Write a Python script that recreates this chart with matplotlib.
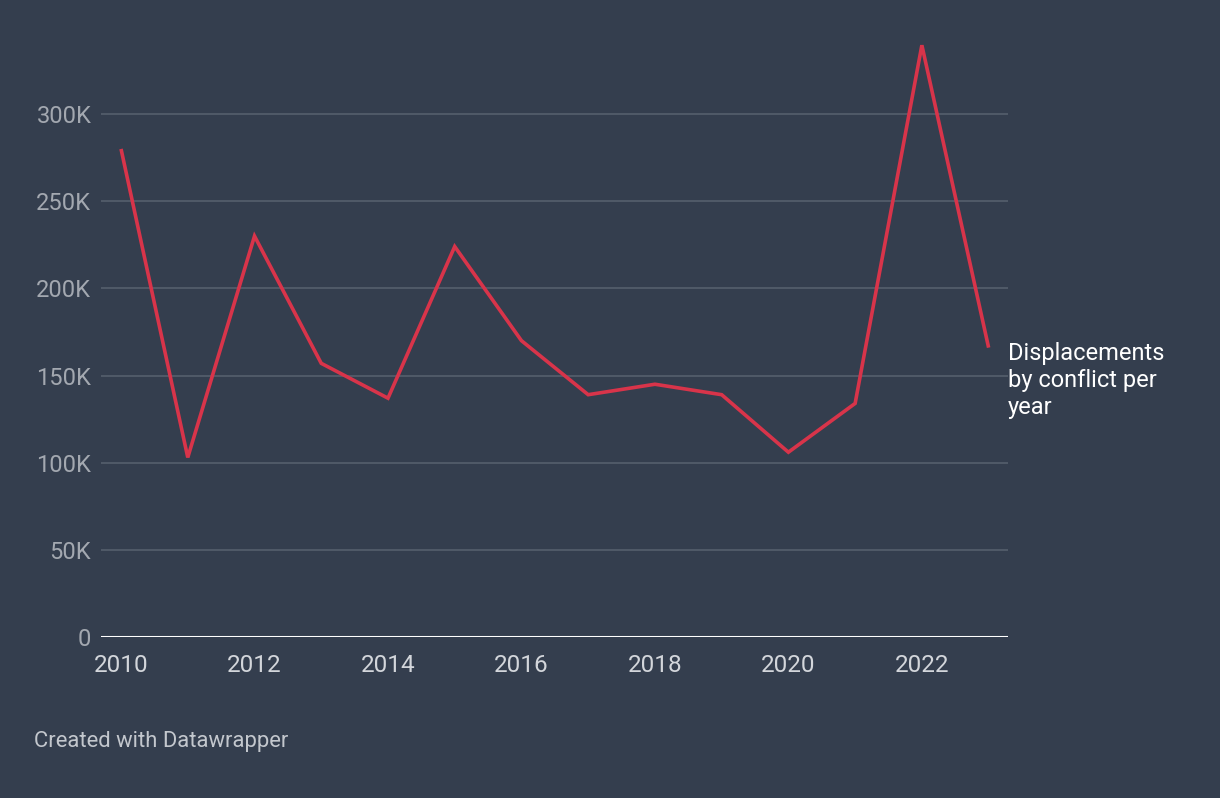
import matplotlib.pyplot as plt

plt.rcParams['font.family'] = ['Roboto', 'DejaVu Sans']

# data
years = [2010, 2011, 2012, 2013, 2014, 2015, 2016, 2017, 2018, 2019, 2020, 2021, 2022, 2023]
displacements = [280000, 103000, 230000, 157000, 137000, 224000, 170000,
                 139000, 145000, 139000, 106000, 134000, 339500, 166000]
y_ticks = [0, 50000, 100000, 150000, 200000, 250000, 300000]
y_labels = ['0', '50K', '100K', '150K', '200K', '250K', '300K']
x_ticks = [2010, 2012, 2014, 2016, 2018, 2020, 2022]

bg = '#343e4e'
red = '#d8344a'

fig = plt.figure(figsize=(12.2, 7.98), dpi=100, facecolor=bg)
ax = fig.add_axes([0.0828, 0.2018, 0.7434, 0.7544])
ax.set_facecolor(bg)

ax.plot(years, displacements, color=red, linewidth=2.6, solid_joinstyle='miter',
        solid_capstyle='butt', zorder=3)

ax.set_xlim(2009.70, 2023.29)
ax.set_ylim(0, 345400)

# grid + baseline
for v in y_ticks[1:]:
    ax.axhline(v, color='#525c6a', linewidth=1.3, zorder=1)
ax.axhline(0, color='white', linewidth=2.2, zorder=2)

for s in ax.spines.values():
    s.set_visible(False)

ax.set_yticks(y_ticks)
ax.set_yticklabels(y_labels)
ax.set_xticks(x_ticks)
ax.set_xticklabels([str(x) for x in x_ticks])
ax.tick_params(axis='y', length=0, pad=7, labelsize=17, labelcolor='#a3a8b0')
ax.tick_params(axis='x', length=0, pad=12, labelsize=17.5, labelcolor='#d3d6db')

# series label at the line end
ax.text(1.0, 169500 / 345400, 'Displacements\nby conflict per\nyear',
        transform=ax.transAxes, ha='left', va='top', color='white', fontsize=17,
        linespacing=1.24)

fig.text(34 / 1220, 1 - 741 / 798, 'Created with Datawrapper', ha='left', va='center',
         color='#c3c7cd', fontsize=15.8)

fig.savefig('out.png', dpi=100, facecolor=bg)
